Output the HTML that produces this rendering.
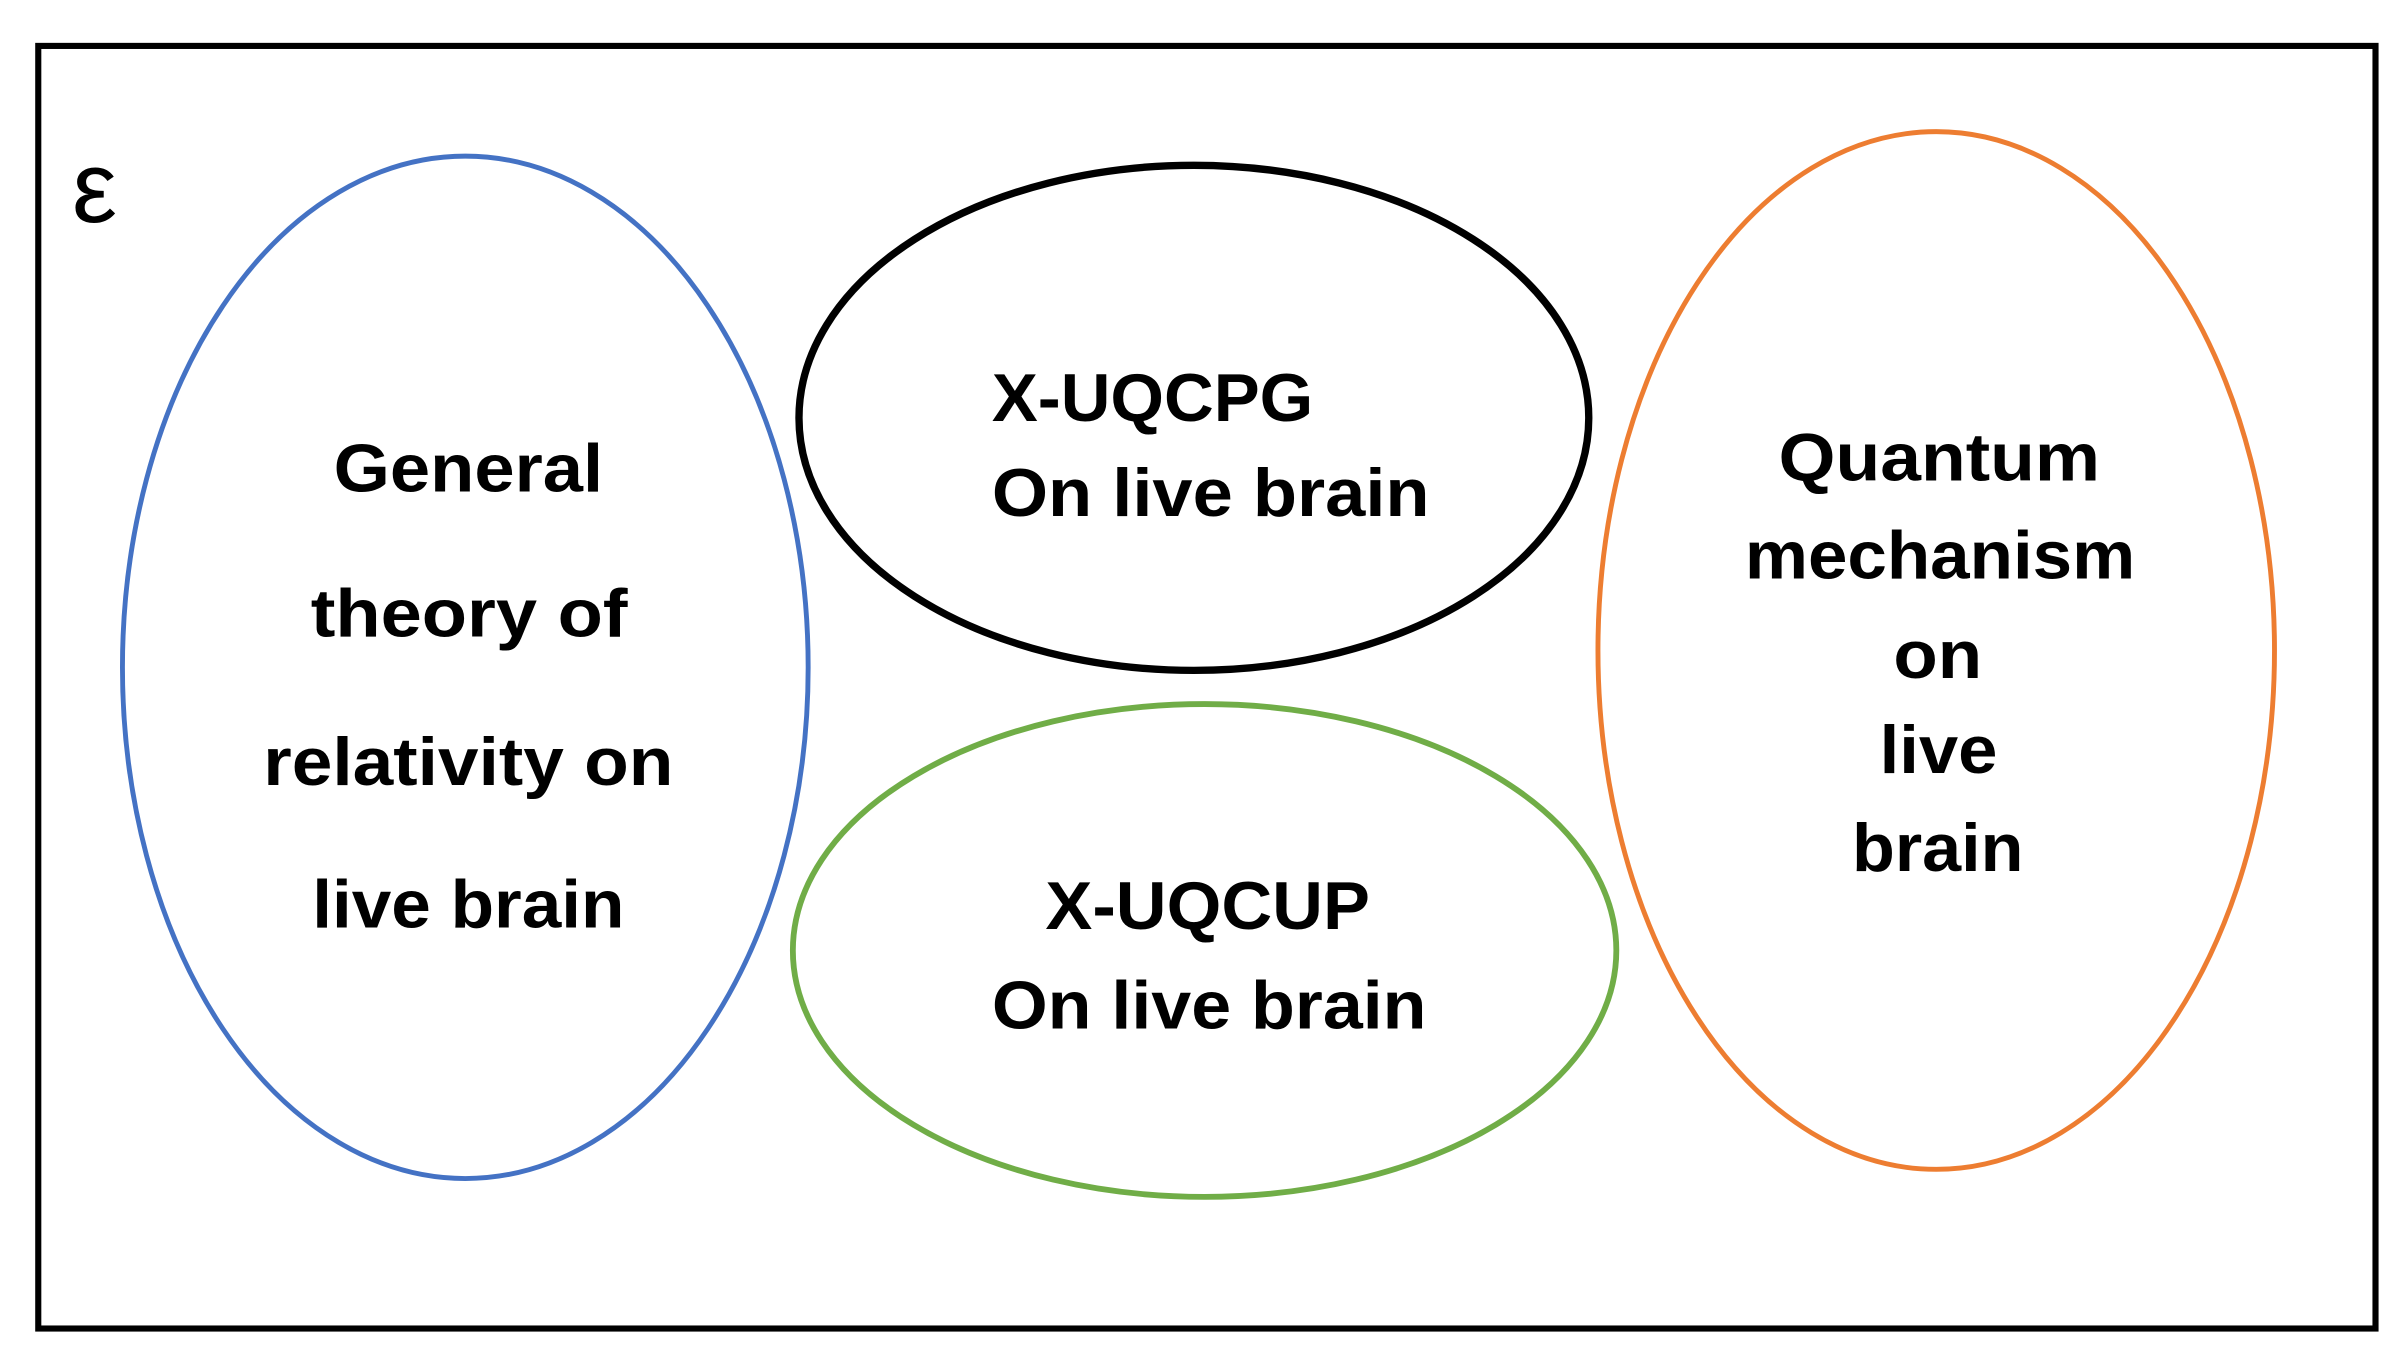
<!DOCTYPE html>
<html><head><meta charset="utf-8"><style>
html,body{margin:0;padding:0;background:#fff;}
svg{display:block;}
text{font-family:"Liberation Sans",sans-serif;font-weight:bold;fill:#000;}
</style></head><body>
<svg width="2400" height="1371" viewBox="0 0 1568 895.75" preserveAspectRatio="none" xmlns="http://www.w3.org/2000/svg">
<rect x="0" y="0" width="1568" height="896" fill="#fff"/>
<rect x="25" y="30" width="1527" height="838" fill="none" stroke="#000" stroke-width="4"/>
<text x="47" y="145" style="font-weight:normal;font-size:66px">ε</text>
<ellipse cx="304" cy="436" rx="224" ry="334" fill="none" stroke="#4472c4" stroke-width="3.2"/>
<ellipse cx="780" cy="273" rx="258" ry="165" fill="none" stroke="#000" stroke-width="4.8"/>
<ellipse cx="787" cy="621" rx="269" ry="161" fill="none" stroke="#70ad47" stroke-width="3.8"/>
<ellipse cx="1265" cy="425" rx="221" ry="339" fill="none" stroke="#ed7d31" stroke-width="3.2"/>
<g style="font-size:44px">
<text x="218" y="321" textLength="176" lengthAdjust="spacingAndGlyphs">General</text>
<text x="203" y="416" textLength="207" lengthAdjust="spacingAndGlyphs">theory of</text>
<text x="172" y="513" textLength="268" lengthAdjust="spacingAndGlyphs">relativity on</text>
<text x="204" y="606" textLength="204" lengthAdjust="spacingAndGlyphs">live brain</text>
<text x="648" y="275" textLength="210" lengthAdjust="spacingAndGlyphs">X-UQCPG</text>
<text x="648" y="337" textLength="286" lengthAdjust="spacingAndGlyphs">On live brain</text>
<text x="683" y="607" textLength="212" lengthAdjust="spacingAndGlyphs">X-UQCUP</text>
<text x="648" y="672" textLength="284" lengthAdjust="spacingAndGlyphs">On live brain</text>
<text x="1162" y="314" textLength="210" lengthAdjust="spacingAndGlyphs">Quantum</text>
<text x="1140" y="378" textLength="255" lengthAdjust="spacingAndGlyphs">mechanism</text>
<text x="1237" y="443" textLength="58" lengthAdjust="spacingAndGlyphs">on</text>
<text x="1228" y="505" textLength="77" lengthAdjust="spacingAndGlyphs">live</text>
<text x="1210" y="569" textLength="112" lengthAdjust="spacingAndGlyphs">brain</text>
</g>
</svg>
</body></html>
